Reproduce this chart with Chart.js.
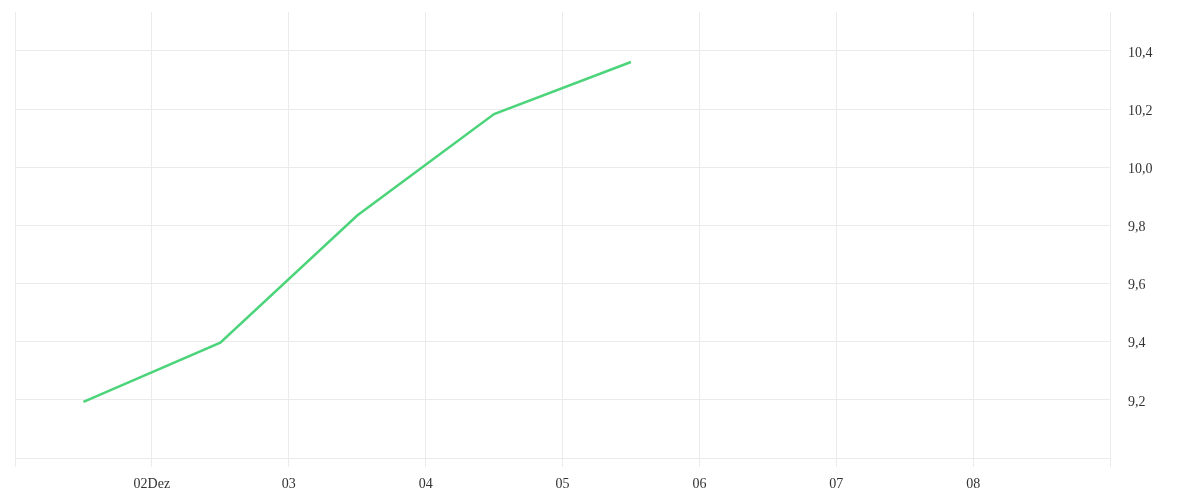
<!DOCTYPE html>
<html>
<head>
<meta charset="utf-8">
<script src="https://cdn.jsdelivr.net/npm/chart.js@4.4.1/dist/chart.umd.min.js"></script>
<style>
  html, body { margin: 0; padding: 0; background: #fff; }
  #wrap { width: 1200px; height: 500px; }
</style>
</head>
<body>
<div id="wrap"><canvas id="chart"></canvas></div>
<script>
// days of December, points sit at noon of each day
const days = [1.5, 2.5, 3.5, 4.5, 5.5];
const values = [9.193, 9.397, 9.834, 10.183, 10.362];
const xTickLabels = { 2: '02Dez', 3: '03', 4: '04', 5: '05', 6: '06', 7: '07', 8: '08' };
const yTicks = [9.2, 9.4, 9.6, 9.8, 10.0, 10.2, 10.4];

Chart.defaults.font.family = '"Liberation Serif", serif';
Chart.defaults.font.size = 14;
Chart.defaults.color = '#333';

const gridColor = '#ebebeb';

new Chart(document.getElementById('chart'), {
  type: 'line',
  data: {
    datasets: [{
      data: days.map((d, i) => ({ x: d, y: values[i] })),
      borderColor: '#4cd47a',
      borderWidth: 2.5,
      pointRadius: 0,
      tension: 0,
      fill: false
    }]
  },
  options: {
    responsive: true,
    maintainAspectRatio: false,
    animation: false,
    layout: { padding: { left: 15, top: 12, right: 0, bottom: 0 } },
    plugins: {
      legend: { display: false },
      tooltip: { enabled: false }
    },
    scales: {
      x: {
        type: 'linear',
        min: 1,
        max: 9,
        border: { display: false },
        grid: { color: gridColor, tickLength: 9, tickColor: gridColor },
        ticks: {
          stepSize: 1,
          padding: 9,
          maxRotation: 0,
          callback: v => xTickLabels[v] || ''
        },
        afterFit: s => { s.height = 42; s.paddingLeft = 0; s.paddingRight = 0; }
      },
      y: {
        position: 'right',
        min: 9.0,
        max: 10.534,
        border: { display: false },
        grid: { color: gridColor, drawTicks: false },
        afterBuildTicks: s => { s.ticks = [9.0].concat(yTicks).map(v => ({ value: v })); },
        ticks: {
          padding: 18,
          labelOffset: 2,
          callback: v => v === 9.0 ? '' : v.toFixed(1).replace('.', ',')
        },
        afterFit: s => { s.width = 90; s.paddingTop = 0; s.paddingBottom = 0; }
      }
    }
  }
});
</script>
</body>
</html>
